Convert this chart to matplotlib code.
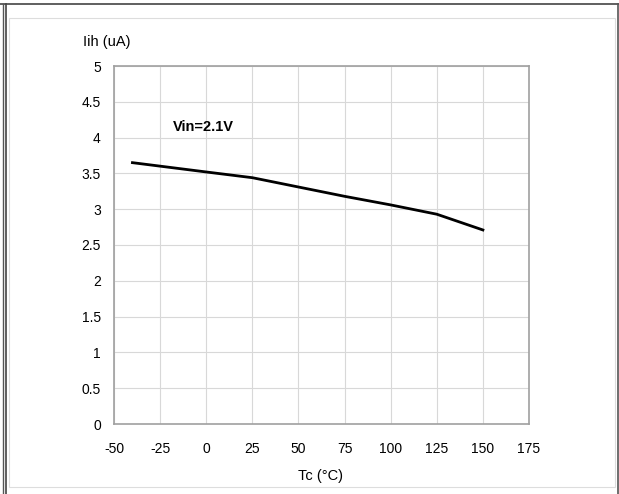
import matplotlib
matplotlib.use("Agg")
import matplotlib.pyplot as plt
from matplotlib.lines import Line2D
from matplotlib.patches import Rectangle

# data
temp = [-40, 0, 25, 50, 75, 100, 125, 150]
iih = [3.65, 3.52, 3.44, 3.31, 3.18, 3.06, 2.93, 2.71]

xticks = [-50, -25, 0, 25, 50, 75, 100, 125, 150, 175]
xlabels = ["-50", "-25", "0", "25", "50", "75", "100", "125", "150", "175"]
yticks = [0, 0.5, 1, 1.5, 2, 2.5, 3, 3.5, 4, 4.5, 5]
ylabels = ["0", "0.5", "1", "1.5", "2", "2.5", "3", "3.5", "4", "4.5", "5"]

plt.rcParams['font.family'] = ['Liberation Sans', 'DejaVu Sans']

W, H = 619, 494
fig = plt.figure(figsize=(W / 100, H / 100), dpi=100)

# outer frame
fig.add_artist(Line2D([0, 1], [1 - 4 / H, 1 - 4 / H], color='#444444', lw=1.2))
fig.add_artist(Line2D([3 / W, 3 / W], [0, 1 - 4 / H], color='#555555', lw=1.0))
fig.add_artist(Line2D([5.5 / W, 5.5 / W], [0, 1 - 4 / H], color='#444444', lw=1.2))
fig.add_artist(Line2D([618 / W, 618 / W], [0, 1 - 4 / H], color='#555555', lw=1.2))
fig.add_artist(Rectangle((9 / W, 7 / H), 606 / W, 469 / H, transform=fig.transFigure,
                         fill=False, edgecolor='#dddddd', lw=0.8))

ax = fig.add_axes([114 / W, 70 / H, 415 / W, 358 / H])
ax.plot(temp, iih, color='black', lw=2)

ax.set_xlim(-50, 175)
ax.set_ylim(0, 5)
ax.set_xticks(xticks)
ax.set_xticklabels(xlabels)
ax.set_yticks(yticks)
ax.set_yticklabels(ylabels)
ax.grid(True, color='#d8d8d8', lw=0.8)
ax.set_axisbelow(True)
for s in ax.spines.values():
    s.set_color('#a0a0a0')
    s.set_linewidth(1.2)
ax.tick_params(length=0, labelsize=10, colors='black')
ax.tick_params(axis='x', pad=13)
ax.tick_params(axis='y', pad=9.5)

ax.text(-18, 4.15, "Vin=2.1V", fontsize=10.5, fontweight='bold', va='center', ha='left')

fig.text(107 / W, 1 - 42 / H, "Iih (uA)", fontsize=10.5, ha='center', va='center')
fig.text(321 / W, 1 - 476 / H, "Tc (°C)", fontsize=10.5, ha='center', va='center')

fig.savefig("out.png", dpi=100)
